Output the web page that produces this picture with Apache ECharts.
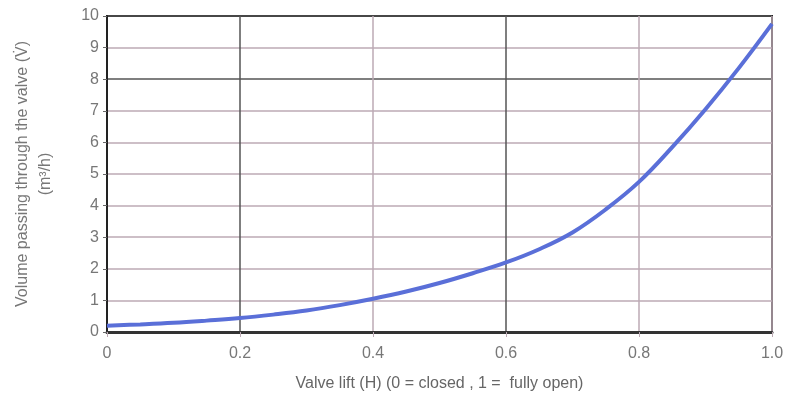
<!DOCTYPE html>
<html><head><meta charset="utf-8">
<script src="https://cdn.jsdelivr.net/npm/echarts@6/dist/echarts.min.js"></script>
<style>html,body{margin:0;padding:0;background:#fff}#c{width:787px;height:403px}</style>
</head><body><div id="c"></div>
<script>
const valveLift = [0, 0.05, 0.1, 0.15, 0.2, 0.25, 0.3, 0.35, 0.4, 0.45, 0.5, 0.55, 0.6, 0.65, 0.7, 0.75, 0.8, 0.85, 0.9, 0.95, 1.0];
const volumeFlow = [0.2, 0.24, 0.29, 0.36, 0.44, 0.55, 0.68, 0.85, 1.05, 1.28, 1.55, 1.86, 2.2, 2.62, 3.15, 3.88, 4.75, 5.85, 7.05, 8.35, 9.75];
const xTickLabels = ['0', '0.2', '0.4', '0.6', '0.8', '1.0'];
const xAxisTitle = 'Valve lift (H) (0 = closed , 1 =  fully open)';
const yAxisTitle = 'Volume passing through the valve (V\u0307)\n(m\u00b3/h)';

const light = '#bcaab4', dark = '#555';
const font = 'Liberation Sans Narrow, Liberation Sans, sans-serif';
const chart = echarts.init(document.getElementById('c'));
chart.setOption({
  animation: false,
  grid: { left: 107, right: 15, top: 16, bottom: 71, containLabel: false, outerBoundsMode: 'none',
    show: true, borderColor: '#222', borderWidth: 2, backgroundColor: 'transparent' },
  xAxis: {
    type: 'value', min: 0, max: 1, interval: 0.2,
    name: xAxisTitle, nameLocation: 'middle', nameGap: 44,
    nameTextStyle: { color: '#666', fontSize: 16, fontFamily: font },
    axisLine: { show: true, lineStyle: { color: '#333', width: 3 } },
    axisTick: { show: true, length: 5, lineStyle: { color: light } },
    axisLabel: { color: '#777', fontSize: 16, margin: 14, fontFamily: font,
      formatter: (v) => xTickLabels[Math.round(v * 5)] },
    splitLine: { show: true, lineStyle: { color: [light, dark, light, dark, light, light], width: 1.5 } }
  },
  yAxis: {
    type: 'value', min: 0, max: 10, interval: 1,
    name: yAxisTitle, nameLocation: 'middle', nameGap: 50, nameRotate: 90,
    nameTextStyle: { color: '#777', fontSize: 16, lineHeight: 23, align: 'center', fontFamily: font },
    axisLine: { show: true, lineStyle: { color: '#222', width: 2 } },
    axisTick: { show: true, length: 4, lineStyle: { color: '#666' } },
    axisLabel: { color: '#777', fontSize: 16, margin: 8, fontFamily: font },
    splitLine: { show: true, lineStyle: { color: [dark, light, light, light, light, light, light, light, dark, light, dark], width: 1.5 } }
  },
  series: [{
    type: 'line', data: valveLift.map((h, i) => [h, volumeFlow[i]]),
    smooth: 0.4, showSymbol: false, lineStyle: { color: '#5a6fd8', width: 4 }
  }]
});
</script></body></html>
